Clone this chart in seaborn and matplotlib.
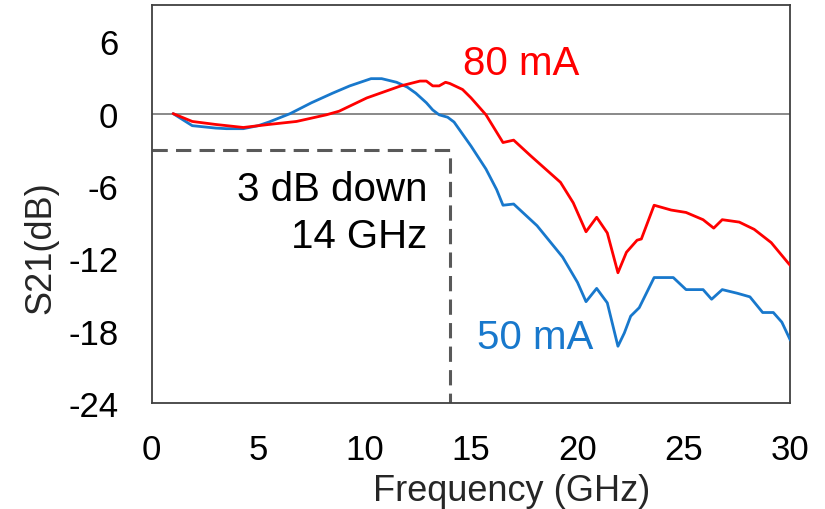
import matplotlib
matplotlib.use("Agg")
import matplotlib.pyplot as plt
import seaborn as sns
import pandas as pd

# 50 mA series
f50 = [1.0, 1.9, 3.0, 3.5, 4.3, 5.0, 5.5, 6.5, 7.5, 8.5, 9.3, 10.3, 10.8, 11.5, 12.0, 12.4,
       12.9, 13.2, 13.5, 13.9, 14.2, 15.0, 15.7, 16.2, 16.5, 17.0, 18.1, 19.3, 20.0, 20.4,
       20.9, 21.4, 21.9, 22.2, 22.5, 22.9, 23.6, 24.5, 25.1, 25.9, 26.3, 26.8, 27.5, 28.1,
       28.7, 29.2, 29.6, 30.0]
s50 = [0.0, -1.0, -1.2, -1.25, -1.25, -1.0, -0.7, 0.0, 0.9, 1.7, 2.3, 2.9, 2.9, 2.6, 2.2, 1.7,
       0.9, 0.3, -0.1, -0.3, -0.7, -2.7, -4.6, -6.3, -7.6, -7.5, -9.3, -11.9, -14.0, -15.6,
       -14.5, -15.7, -19.3, -18.2, -16.8, -16.1, -13.6, -13.6, -14.6, -14.6, -15.4, -14.6, -14.9, -15.2,
       -16.5, -16.5, -17.3, -18.8]

# 80 mA series
f80 = [1.0, 1.9, 3.0, 4.3, 5.5, 6.8, 8.2, 8.8, 10.1, 11.7, 12.6, 12.9, 13.2, 13.5, 13.8, 14.0,
       14.6, 15.0, 15.7, 16.5, 17.0, 17.8, 19.2, 19.8, 20.4, 20.9, 21.4, 21.9, 22.3, 22.8,
       23.0, 23.6, 24.4, 25.1, 25.9, 26.4, 26.8, 27.6, 28.3, 29.1, 29.9, 30.0]
s80 = [0.0, -0.65, -0.9, -1.15, -0.9, -0.65, -0.1, 0.2, 1.3, 2.3, 2.7, 2.7, 2.3, 2.3, 2.6, 2.5,
       2.0, 1.3, -0.1, -2.4, -2.2, -3.5, -5.7, -7.4, -9.8, -8.6, -9.9, -13.2, -11.5, -10.5,
       -10.4, -7.6, -8.0, -8.2, -8.8, -9.5, -8.8, -9.0, -9.6, -10.7, -12.4, -12.6]

xticks = [0, 5, 10, 15, 20, 25, 30]
yticks = [-24, -18, -12, -6, 0, 6]
bw_freq = 14
bw_level = -3

BLUE = "#1878CC"
RED = "#FF0000"

sns.set_theme(style="white")
plt.rcParams['font.family'] = ['Liberation Sans', 'DejaVu Sans']

df = pd.concat([
    pd.DataFrame({"f": f50, "s": s50, "cur": "50 mA"}),
    pd.DataFrame({"f": f80, "s": s80, "cur": "80 mA"}),
])

fig = plt.figure(figsize=(8.25, 5.1), dpi=100)
ax = fig.add_axes([0.184, 0.208, 0.774, 0.780])

ax.axhline(0, color="#808080", lw=1.3, zorder=1)
sns.lineplot(data=df, x="f", y="s", hue="cur",
             palette={"50 mA": BLUE, "80 mA": RED},
             linewidth=2.0, legend=False, ax=ax, zorder=3, sort=False)

ax.plot([0, bw_freq, bw_freq], [bw_level, bw_level, -24], color="#595959",
        lw=2.2, ls=(0, (5, 2.7)), zorder=2)

ax.set_xlim(0, 30)
ax.set_ylim(-24, 9)
ax.set_xticks(xticks)
ax.set_yticks(yticks)
ax.set_xticklabels([str(v) for v in xticks])
ax.set_yticklabels([str(v) for v in yticks])
ax.tick_params(direction="in", length=5, width=1, colors="#404040",
               labelcolor="black", labelsize=25)
ax.tick_params(axis="y", pad=24)
ax.tick_params(axis="x", pad=22)
ax.set_xlabel("Frequency (GHz)", fontsize=26)
ax.set_ylabel("S21(dB)", fontsize=26)
ax.xaxis.set_label_coords(0.564, -0.176)
ax.yaxis.set_label_coords(-0.146, 0.394)
for sp in ax.spines.values():
    sp.set_color("#404040")
    sp.set_linewidth(1.3)
    sp.set_visible(True)

ax.text(14.6, 4.2, "80 mA", color=RED, fontsize=29, ha="left", va="center")
ax.text(15.3, -18.5, "50 mA", color=BLUE, fontsize=29, ha="left", va="center")
ax.text(12.95, -8.2, "3 dB down\n14 GHz", color="black", fontsize=29, ha="right",
        va="center", linespacing=1.3)

fig.savefig("out.png", dpi=100)
